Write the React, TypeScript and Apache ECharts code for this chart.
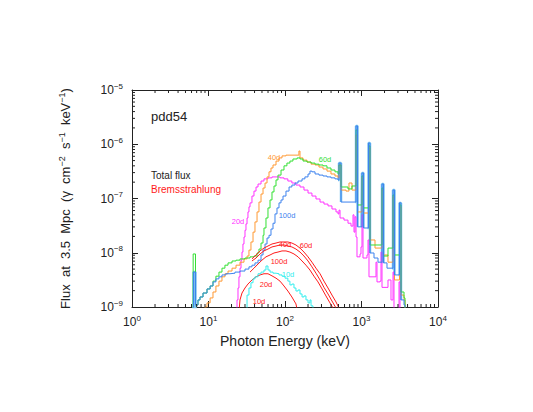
import React, { useEffect, useRef } from "react";
import * as echarts from "echarts";

// Axis ranges / tick decades
const xDecades = [1, 10, 100, 1000];
const yDecades = [1e-9, 1e-8, 1e-7, 1e-6];

// Total flux histograms: [photon energy keV, flux photons cm^-2 s^-1 keV^-1]
const total20d = [[22.9,5e-10],[23.6,1.35e-9],[24.3,2.24e-9],[25.0,3.6e-9],[25.8,5.2e-9],[26.6,7.3e-9],[27.4,1.03e-8],[28.2,1.45e-8],[29.1,1.95e-8],[30.0,2.6e-8],[30.9,3.4e-8],[31.9,4.37e-8],[32.8,5.65e-8],[33.8,7.0e-8],[34.9,8.3e-8],[37.0,1.11e-7],[39.3,1.37e-7],[41.8,1.63e-7],[44.4,1.85e-7],[48.6,2.1e-7],[53.1,2.3e-7],[59.9,2.4e-7],[67.6,2.5e-7],[76.3,2.5e-7],[86.0,2.4e-7],[97.0,2.3e-7],[109,2.1e-7],[123,1.93e-7],[139,1.77e-7],[157,1.63e-7],[177,1.43e-7],[200,1.26e-7],[225,1.11e-7],[254,9.8e-8],[287,8.6e-8],[323,7.9e-8],[365,7.3e-8],[411,6.4e-8],[464,5.65e-8],[493,5.2e-8],[508,6.1e-8],[524,4.37e-8],[590,4.0e-8],[666,3.5e-8],[729,3.1e-8],[774,5.0e-8],[798,2.4e-8],[822,4.6e-8],[848,1.95e-8],[873,8.4e-9],[956,9.5e-9],[985,1.28e-8],[1015,5.0e-8],[1046,8.0e-9],[1180,9.1e-9],[1216,1.72e-8],[1253,3.6e-9],[1502,3.6e-9],[1547,6.7e-9],[1594,2.9e-9],[1745,3.0e-9],[1799,1.03e-8],[1854,2.3e-9],[2154,2.3e-9],[2220,3.15e-9],[2430,1.35e-9],[2581,4.4e-9],[2659,5e-10],[3000,5e-10],[3092,2.9e-9],[3187,5e-10]];

const total40d = [[8.48,5e-10],[9.0,1.0e-9],[9.56,1.19e-9],[10.5,1.47e-9],[11.45,1.89e-9],[12.5,2.44e-9],[13.7,3.0e-9],[15.0,3.6e-9],[16.4,4.1e-9],[18.0,4.6e-9],[20.3,5.2e-9],[22.9,5.9e-9],[25.8,6.7e-9],[29.1,7.7e-9],[31.9,8.7e-9],[33.8,1.12e-8],[35.9,1.58e-8],[38.2,2.4e-8],[40.5,3.7e-8],[43.1,5.65e-8],[45.7,8.6e-8],[48.6,1.21e-7],[51.6,1.56e-7],[54.8,1.93e-7],[58.2,2.5e-7],[61.8,3.1e-7],[65.6,3.65e-7],[69.7,4.15e-7],[76.3,4.9e-7],[83.5,5.6e-7],[91.4,6.1e-7],[103,6.3e-7],[116,6.3e-7],[131,6.3e-7],[148,6.3e-7],[152,7.5e-7],[157,5.6e-7],[172,5.1e-7],[194,4.7e-7],[219,4.3e-7],[247,4.15e-7],[278,3.8e-7],[314,3.5e-7],[354,3.2e-7],[399,2.83e-7],[450,2.6e-7],[493,2.4e-7],[508,4.15e-7],[540,1.43e-7],[627,1.37e-7],[686,1.93e-7],[751,1.43e-7],[848,1.48e-6],[887,5.65e-8],[1015,2.4e-7],[1062,5.4e-8],[1235,8.5e-7],[1291,1.72e-8],[1502,1.22e-8],[1854,1.43e-7],[1939,9.1e-9],[2220,6.7e-9],[2581,1.07e-7],[2700,3.15e-9],[3139,7.0e-8],[3283,1.66e-9],[3594,1.35e-9],[3704,5e-10]];

const total60d = [[6.0,5e-10],[6.3,9.5e-9],[6.76,1.09e-9],[7.29,1.35e-9],[7.74,1.53e-9],[8.48,1.81e-9],[9.56,2.15e-9],[10.5,2.44e-9],[11.45,3.0e-9],[12.5,3.7e-9],[13.7,4.4e-9],[15.0,5.2e-9],[16.4,5.9e-9],[18.0,6.5e-9],[20.3,7.05e-9],[22.9,7.3e-9],[25.8,7.7e-9],[30.0,8.0e-9],[34.9,8.4e-9],[39.3,8.7e-9],[43.1,9.9e-9],[45.7,1.17e-8],[48.6,1.51e-8],[51.6,2.1e-8],[53.1,2.86e-8],[56.4,4.37e-8],[59.9,6.7e-8],[63.7,9.4e-8],[67.6,1.32e-7],[71.8,1.7e-7],[76.3,2.2e-7],[81.0,2.7e-7],[88.7,3.35e-7],[97.0,4.0e-7],[106,4.5e-7],[116,4.9e-7],[127,5.35e-7],[144,5.6e-7],[157,5.35e-7],[172,4.9e-7],[194,4.7e-7],[219,4.5e-7],[247,4.3e-7],[278,4.15e-7],[314,4.0e-7],[354,3.65e-7],[399,3.35e-7],[450,3.1e-7],[493,2.83e-7],[508,4.15e-7],[540,1.63e-7],[666,1.5e-7],[751,1.7e-7],[848,1.83e-6],[887,7.6e-8],[1015,2.6e-7],[1062,6.7e-8],[1235,9.3e-7],[1291,1.39e-8],[1854,1.56e-7],[1939,8.7e-9],[2220,1.22e-8],[2581,1.16e-7],[2700,9.1e-9],[3139,7.6e-8],[3283,1.89e-9],[3594,1.47e-9],[3704,5e-10]];

const total100d = [[6.0,5e-10],[6.37,4.4e-9],[6.76,1.09e-9],[7.29,1.35e-9],[7.74,1.53e-9],[8.48,1.81e-9],[9.56,2.15e-9],[10.5,2.44e-9],[11.45,2.9e-9],[12.5,3.3e-9],[13.7,3.6e-9],[15.0,3.9e-9],[16.9,4.1e-9],[19.1,4.2e-9],[22.2,4.4e-9],[25.8,4.6e-9],[30.0,5.0e-9],[33.8,5.5e-9],[37.0,5.9e-9],[40.5,6.5e-9],[44.4,7.3e-9],[48.6,9.1e-9],[51.6,1.12e-8],[54.8,1.45e-8],[58.2,1.87e-8],[61.8,2.1e-8],[65.6,2.74e-8],[69.7,3.5e-8],[74.0,5.2e-8],[78.6,6.7e-8],[83.5,8.3e-8],[88.7,9.4e-8],[94.2,1.11e-7],[103,1.37e-7],[113,1.63e-7],[123,1.77e-7],[135,1.93e-7],[148,2.1e-7],[167,2.3e-7],[182,2.5e-7],[200,2.83e-7],[212,3.2e-7],[225,3.1e-7],[247,2.83e-7],[278,2.7e-7],[314,2.6e-7],[354,2.5e-7],[399,2.4e-7],[450,2.3e-7],[493,2.2e-7],[508,4.5e-7],[540,8.6e-8],[848,2.17e-6],[887,3.0e-8],[1015,2.95e-7],[1062,2.86e-8],[1235,1.05e-6],[1291,9.9e-9],[1457,8.0e-9],[1643,6.7e-9],[1854,1.85e-7],[1939,6.5e-9],[2154,5.2e-9],[2581,1.43e-7],[2700,3.9e-9],[3139,8.3e-8],[3283,1.35e-9],[3594,1.09e-9],[3704,5e-10]];

const total10d = [[30.9,5e-10],[31.9,1.66e-9],[33.8,2.24e-9],[35.9,2.8e-9],[38.2,3.3e-9],[40.5,3.6e-9],[44.4,4.1e-9],[48.6,4.4e-9],[53.1,4.8e-9],[56.4,5.7e-9],[59.9,4.8e-9],[63.7,4.4e-9],[69.7,4.2e-9],[76.3,4.1e-9],[83.5,3.9e-9],[91.4,3.7e-9],[100,3.4e-9],[109,3.0e-9],[116,2.55e-9],[123,2.65e-9],[131,2.24e-9],[139,1.97e-9],[148,2.06e-9],[157,1.74e-9],[167,1.53e-9],[177,1.6e-9],[188,1.35e-9],[200,1.19e-9],[212,1.35e-9],[219,1.05e-9],[232,5e-10]];

// Gamma-ray line spikes of the 100d spectrum (highlighted)
const lineSpikes100d = [
  [[6.2,5e-10],[6.37,4.4e-9],[6.76,5e-10]],
  [[493,2.2e-7],[508,4.5e-7],[540,8.6e-8]],
  [[830,8.6e-8],[848,2.17e-6],[887,3.0e-8]],
  [[1000,3.0e-8],[1015,2.95e-7],[1062,2.86e-8]],
  [[1200,2.86e-8],[1235,1.05e-6],[1291,9.9e-9]],
  [[1800,6.7e-9],[1854,1.85e-7],[1939,6.5e-9]],
  [[2500,5.2e-9],[2581,1.43e-7],[2700,3.9e-9]],
  [[3050,3.9e-9],[3139,8.3e-8],[3283,1.35e-9]],
];

// Bremsstrahlung components
const brems20d = [[24.3,5e-10],[25.8,1.35e-9],[27.4,1.81e-9],[30.0,2.24e-9],[32.8,2.65e-9],[37.0,3.15e-9],[41.8,3.6e-9],[47.1,3.9e-9],[53.1,4.1e-9],[59.9,4.1e-9],[67.6,3.75e-9],[76.3,3.4e-9],[86.0,3.0e-9],[97.0,2.44e-9],[109,1.97e-9],[123,1.53e-9],[139,1.14e-9],[157,5e-10]];
const brems40d = [[37.0,7.05e-9],[41.8,8.0e-9],[47.1,9.5e-9],[53.1,1.08e-8],[59.9,1.17e-8],[67.6,1.28e-8],[76.3,1.33e-8],[86.0,1.39e-8],[97.0,1.39e-8],[109,1.33e-8],[123,1.28e-8],[139,1.17e-8],[157,1.03e-8],[177,8.7e-9],[200,7.05e-9],[225,5.5e-9],[254,4.2e-9],[287,3.15e-9],[323,2.3e-9],[365,1.74e-9],[411,1.29e-9],[464,9.6e-10],[508,5e-10]];
const brems60d = [[37.0,7.7e-9],[41.8,9.1e-9],[47.1,1.08e-8],[53.1,1.22e-8],[59.9,1.33e-8],[67.6,1.45e-8],[76.3,1.51e-8],[86.0,1.58e-8],[97.0,1.58e-8],[109,1.58e-8],[123,1.51e-8],[139,1.39e-8],[157,1.22e-8],[177,1.03e-8],[200,8.4e-9],[225,6.7e-9],[254,5.2e-9],[287,4.1e-9],[323,3.0e-9],[365,2.24e-9],[411,1.66e-9],[464,1.24e-9],[508,9.6e-10],[556,5e-10]];
const brems100d = [[34.9,4.4e-9],[39.3,5.2e-9],[44.4,6.2e-9],[50.0,7.3e-9],[56.4,8.4e-9],[63.7,9.1e-9],[71.8,9.9e-9],[81.0,1.03e-8],[91.4,1.08e-8],[103,1.08e-8],[116,1.03e-8],[131,9.5e-9],[148,8.4e-9],[167,7.05e-9],[188,5.9e-9],[212,4.8e-9],[239,3.7e-9],[270,2.9e-9],[305,2.15e-9],[343,1.6e-9],[387,1.19e-9],[424,9.6e-10],[464,5e-10]];

const FONT = "'Liberation Sans', Arial, sans-serif";
const INK = "#222222";
const C = {
  magenta: "#ff33ff",
  orange: "#ff9933",
  green: "#33e033",
  blue: "#3d82ee",
  lightBlue: "#7cc4ee",
  cyan: "#33eeee",
  red: "#ff1a1a",
};

const supLabel = (v: number) => {
  const e = Math.round(Math.log10(v));
  return "10{s|" + (e < 0 ? "\u2212" + -e : String(e)) + "}";
};

export default function App() {
  const ref = useRef<HTMLDivElement>(null);
  useEffect(() => {
    if (!ref.current) return;
    const chart = echarts.init(ref.current, null, { renderer: "svg" });

    const minorX: number[] = [];
    xDecades.forEach((d) => { for (let k = 2; k <= 9; k++) minorX.push(k * d); });
    const minorY: number[] = [];
    yDecades.forEach((d) => { for (let k = 2; k <= 9; k++) minorY.push(k * d); });

    const labelRich = {
      s: { fontSize: 8, fontFamily: FONT, color: INK, padding: [0, 0, 8, 0] },
    };

    const axisCommon = {
      type: "log",
      logBase: 10,
      axisLine: { show: true, lineStyle: { color: INK, width: 1 } },
      axisTick: { show: true, inside: true, length: 6, lineStyle: { color: INK } },
      splitLine: { show: false },
      minorTick: { show: false },
    };

    const stepLine = (data: number[][], color: string, z = 2) => ({
      type: "line",
      data,
      step: "end",
      symbol: "none",
      lineStyle: { color, width: 1 },
      z,
      silent: true,
    });
    const smoothLine = (data: number[][], color: string, z = 3) => ({
      type: "line",
      data,
      symbol: "none",
      lineStyle: { color, width: 1 },
      z,
      silent: true,
    });

    const tickLine = (x1: number, y1: number, x2: number, y2: number) => ({
      type: "line",
      shape: { x1, y1, x2, y2 },
      style: { stroke: INK, lineWidth: 1 },
    });

    const text = (t: string, x: number, y: number, color: string, size: number, align = "left") => ({
      type: "text",
      x,
      y,
      silent: true,
      style: { text: t, fill: color, fontSize: size, fontFamily: FONT, align, verticalAlign: "middle" },
    });

    chart.setOption({
      animation: false,
      backgroundColor: "#ffffff",
      grid: { left: 132, top: 90, width: 306, height: 217, containLabel: false },
      xAxis: [
        {
          ...axisCommon,
          min: 1,
          max: 10000,
          position: "bottom",
          axisLabel: {
            show: true,
            formatter: supLabel,
            fontSize: 12,
            fontFamily: FONT,
            color: INK,
            margin: 7,
            rich: labelRich,
          },
          name: "Photon Energy (keV)",
          nameLocation: "middle",
          nameGap: 27,
          nameTextStyle: { fontSize: 14, fontFamily: FONT, color: INK },
        },
        { ...axisCommon, min: 1, max: 10000, position: "top", axisLabel: { show: false } },
      ],
      yAxis: [
        {
          ...axisCommon,
          min: 1e-9,
          max: 1e-5,
          position: "left",
          axisLabel: {
            show: true,
            formatter: supLabel,
            fontSize: 12,
            fontFamily: FONT,
            color: INK,
            margin: 9,
            rich: labelRich,
          },
          name: "Flux  at  3.5  Mpc  (\u03b3  cm{s|\u22122}  s{s|\u22121}  keV{s|\u22121})",
          nameLocation: "middle",
          nameGap: 58,
          nameTextStyle: {
            fontSize: 13,
            fontFamily: FONT,
            color: INK,
            rich: { s: { fontSize: 9, fontFamily: FONT, color: INK, padding: [0, 0, 8, 0] } },
          },
        },
        { ...axisCommon, min: 1e-9, max: 1e-5, position: "right", axisLabel: { show: false } },
      ],
      series: [
        ...lineSpikes100d.map((d) => ({
          type: "line",
          data: d,
          step: "end",
          symbol: "none",
          lineStyle: { color: C.lightBlue, width: 2.5 },
          z: 1,
          silent: true,
        })),
        stepLine(total20d, C.magenta),
        stepLine(total40d, C.orange),
        stepLine(total60d, C.green),
        stepLine(total100d, C.blue),
        smoothLine(brems20d, C.red),
        smoothLine(brems40d, C.red),
        smoothLine(brems60d, C.red),
        smoothLine(brems100d, C.red),
        stepLine(total10d, C.cyan, 4),
        {
          type: "custom",
          xAxisIndex: 0,
          yAxisIndex: 0,
          silent: true,
          clip: false,
          z: 10,
          data: minorX.map((v) => [v, 1e-9]),
          renderItem: (_p: any, api: any) => {
            const v = api.value(0);
            const b = api.coord([v, 1e-9]);
            const t = api.coord([v, 1e-5]);
            return {
              type: "group",
              children: [tickLine(b[0], b[1], b[0], b[1] - 3), tickLine(t[0], t[1], t[0], t[1] + 3)],
            };
          },
        },
        {
          type: "custom",
          xAxisIndex: 0,
          yAxisIndex: 0,
          silent: true,
          clip: false,
          z: 10,
          data: minorY.map((v) => [1, v]),
          renderItem: (_p: any, api: any) => {
            const v = api.value(1);
            const l = api.coord([1, v]);
            const r = api.coord([10000, v]);
            return {
              type: "group",
              children: [tickLine(l[0], l[1], l[0] + 3, l[1]), tickLine(r[0], r[1], r[0] - 3, r[1])],
            };
          },
        },
      ],
      graphic: [
        text("pdd54", 151, 116, INK, 13),
        text("Total flux", 151, 175, INK, 10),
        text("Bremsstrahlung", 151, 189, C.red, 10),
        text("40d", 274, 157, C.orange, 7.5, "center"),
        text("60d", 325, 159, C.green, 7.5, "center"),
        text("20d", 238, 221, C.magenta, 7.5, "center"),
        text("100d", 287, 215, C.blue, 7.5, "center"),
        text("40d", 285, 244, C.red, 7.5, "center"),
        text("60d", 306, 245, C.red, 7.5, "center"),
        text("100d", 279, 261, C.red, 7.5, "center"),
        text("10d", 288, 274, C.cyan, 7.5, "center"),
        text("20d", 266, 284, C.red, 7.5, "center"),
        text("10d", 259, 301, C.red, 7.5, "center"),
      ],
    });
    return () => chart.dispose();
  }, []);
  return (
    <div
      ref={ref}
      style={{ position: "fixed", left: 0, top: 0, width: 533, height: 412, background: "#fff" }}
    />
  );
}
